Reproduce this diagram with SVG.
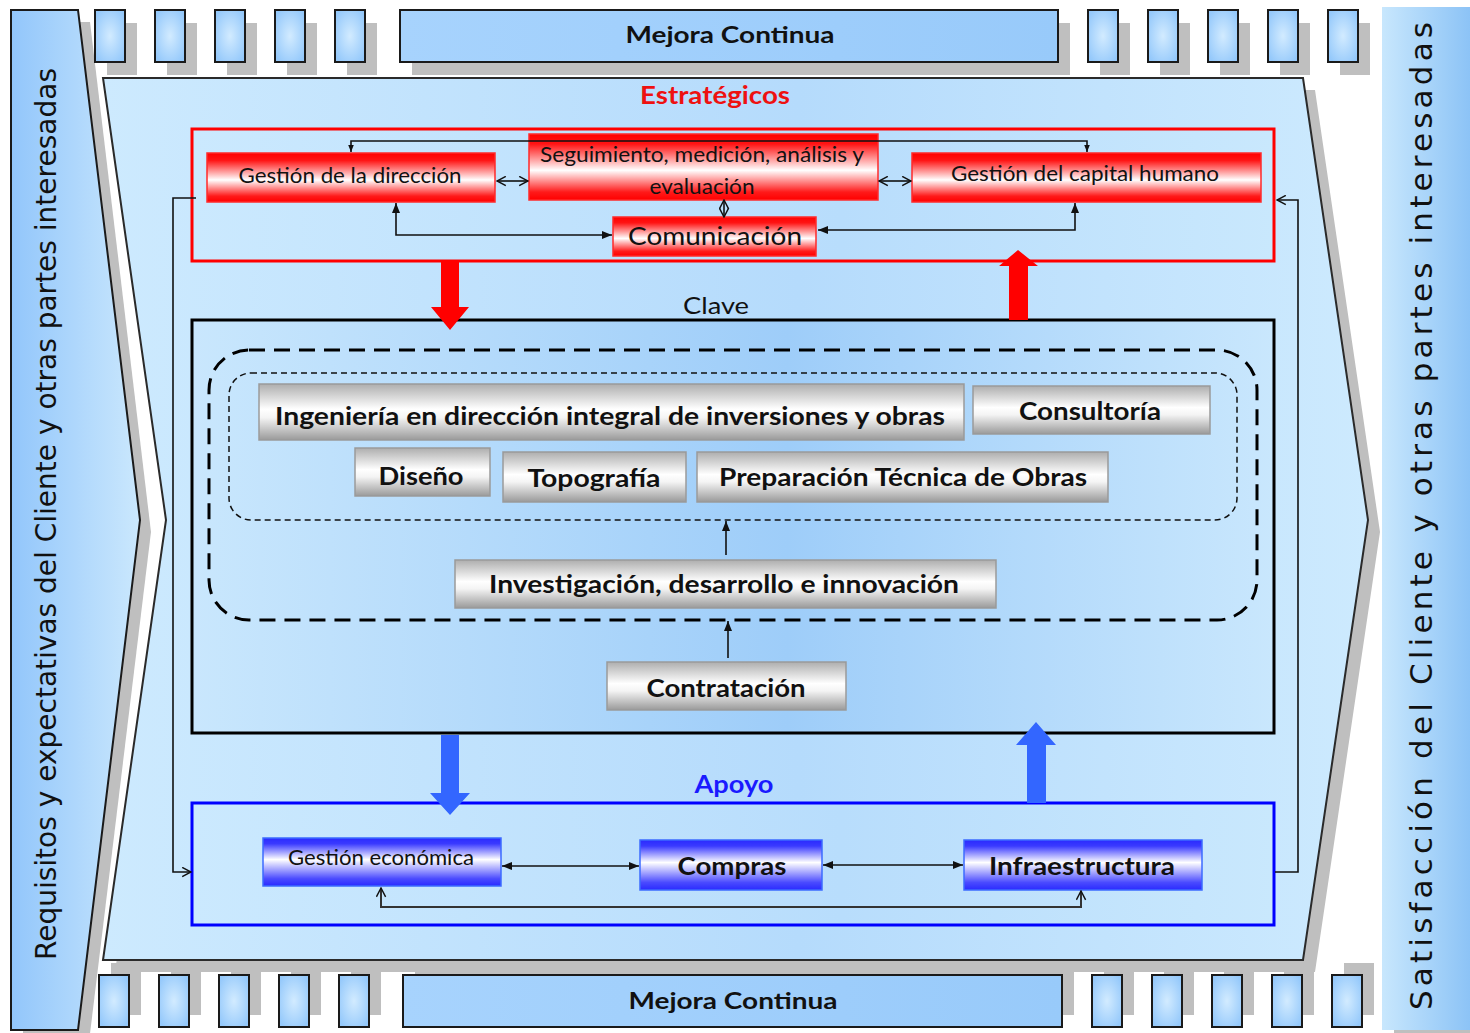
<svg xmlns="http://www.w3.org/2000/svg" width="1470" height="1033" viewBox="0 0 1470 1033">
<defs>
<style>
.sh{fill:#bfbfbf}
.blk{stroke:#1a1a1a;stroke-width:2}
.sm{fill:url(#gSmall)}
.mej{fill:url(#gMej)}
.lbl{font-family:Lato,"Open Sans","DejaVu Sans",sans-serif;fill:#111;text-anchor:middle}
.bold{font-weight:bold}
.redn{fill:url(#gRed);stroke:#ff2a2a;stroke-width:1.5}
.bluen{fill:url(#gBlue);stroke:#3d6bff;stroke-width:1.5}
.grayn{fill:url(#gGray);stroke:#9a9a9a;stroke-width:1.5}
.ln{fill:none;stroke:#111;stroke-width:1.6}
.lnb{fill:none;stroke:#333;stroke-width:2}
</style>
<radialGradient id="gSmall" cx="0.5" cy="0.5" r="0.6">
<stop offset="0" stop-color="#d2ebff"/><stop offset="1" stop-color="#95c9fb"/>
</radialGradient>
<linearGradient id="gMej" x1="0" y1="0" x2="1" y2="0">
<stop offset="0" stop-color="#a7d3fd"/><stop offset="1" stop-color="#98cafa"/>
</linearGradient>
<linearGradient id="gLeft" x1="0" y1="0" x2="1" y2="0">
<stop offset="0" stop-color="#92c6fb"/><stop offset="1" stop-color="#cbe8fd"/>
</linearGradient>
<linearGradient id="gRight" x1="0" y1="0" x2="1" y2="0">
<stop offset="0" stop-color="#c8e7fd"/><stop offset="1" stop-color="#8cc3f6"/>
</linearGradient>
<linearGradient id="gMain" x1="0" y1="0" x2="1" y2="0">
<stop offset="0" stop-color="#cdeafe"/><stop offset="0.55" stop-color="#b5dbfc"/><stop offset="1" stop-color="#cdeafe"/>
</linearGradient>
<linearGradient id="gClave" x1="0" y1="0" x2="1" y2="0">
<stop offset="0" stop-color="#c9e7fd"/><stop offset="0.55" stop-color="#9ecdf9"/><stop offset="1" stop-color="#c9e7fd"/>
</linearGradient>
<linearGradient id="gBox" x1="0" y1="0" x2="1" y2="0">
<stop offset="0" stop-color="#cbe9fe"/><stop offset="0.6" stop-color="#b8ddfc"/><stop offset="1" stop-color="#c9e8fd"/>
</linearGradient>
<linearGradient id="gRed" x1="0" y1="0" x2="0" y2="1">
<stop offset="0" stop-color="#ff0000"/><stop offset="0.15" stop-color="#ff1414"/><stop offset="0.55" stop-color="#ffffff"/><stop offset="0.88" stop-color="#ff1a1a"/><stop offset="1" stop-color="#ff0000"/>
</linearGradient>
<linearGradient id="gBlue" x1="0" y1="0" x2="0" y2="1">
<stop offset="0" stop-color="#2a2aff"/><stop offset="0.12" stop-color="#3a3aff"/><stop offset="0.45" stop-color="#ffffff"/><stop offset="0.85" stop-color="#4a4aff"/><stop offset="1" stop-color="#2a2aff"/>
</linearGradient>
<linearGradient id="gGray" x1="0" y1="0" x2="0" y2="1">
<stop offset="0" stop-color="#aeaeae"/><stop offset="0.45" stop-color="#ffffff"/><stop offset="0.6" stop-color="#f4f4f4"/><stop offset="1" stop-color="#9a9a9a"/>
</linearGradient>
<marker id="af" viewBox="0 0 10 10" refX="10" refY="5" markerWidth="10" markerHeight="10" markerUnits="userSpaceOnUse" orient="auto-start-reverse">
<path d="M0,1 L10,5 L0,9 z" fill="#111"/>
</marker>
<marker id="afs" viewBox="0 0 10 10" refX="10" refY="5" markerWidth="7" markerHeight="7" markerUnits="userSpaceOnUse" orient="auto-start-reverse">
<path d="M0,1 L10,5 L0,9 z" fill="#111"/>
</marker>
<marker id="ao" viewBox="0 0 10 10" refX="9" refY="5" markerWidth="11" markerHeight="11" markerUnits="userSpaceOnUse" orient="auto-start-reverse">
<path d="M1,0.8 L9,5 L1,9.2" fill="none" stroke="#111" stroke-width="1.3"/>
</marker>
</defs>

<rect width="1470" height="1033" fill="#ffffff"/>

<g id="shadows">
<polygon class="sh" points="23,22 90,22 151,532 89,1042 23,1042"/>
<polygon class="sh" points="115,90 1315,90 1380,532 1315,972 115,972 178,532"/>
<rect class="sh" x="1394" y="19" width="88" height="1023"/>
<rect class="sh" x="107" y="23" width="30" height="52"/><rect class="sh" x="167" y="23" width="30" height="52"/><rect class="sh" x="227" y="23" width="30" height="52"/><rect class="sh" x="287" y="23" width="30" height="52"/><rect class="sh" x="347" y="23" width="30" height="52"/>
<rect class="sh" x="412" y="23" width="658" height="52"/>
<rect class="sh" x="1100" y="23" width="30" height="52"/><rect class="sh" x="1160" y="23" width="30" height="52"/><rect class="sh" x="1220" y="23" width="30" height="52"/><rect class="sh" x="1280" y="23" width="30" height="52"/><rect class="sh" x="1340" y="23" width="30" height="52"/>
<rect class="sh" x="111" y="963" width="30" height="52"/><rect class="sh" x="171" y="963" width="30" height="52"/><rect class="sh" x="231" y="963" width="30" height="52"/><rect class="sh" x="291" y="963" width="30" height="52"/><rect class="sh" x="351" y="963" width="30" height="52"/>
<rect class="sh" x="415" y="963" width="659" height="52"/>
<rect class="sh" x="1104" y="963" width="30" height="52"/><rect class="sh" x="1164" y="963" width="30" height="52"/><rect class="sh" x="1224" y="963" width="30" height="52"/><rect class="sh" x="1284" y="963" width="30" height="52"/><rect class="sh" x="1344" y="963" width="30" height="52"/>
</g>

<g id="main-process">
<polygon points="103,78 1303,78 1368,520 1303,960 103,960 166,520" fill="url(#gMain)" stroke="#2a2a2a" stroke-width="2"/>
</g>

<g id="left-panel">
<polygon points="11,10 78,10 140,520 78,1030 11,1030" fill="url(#gLeft)" stroke="#1a1a1a" stroke-width="2"/>
<text transform="translate(56,514) rotate(-90)" style="font-family:'DejaVu Sans',Verdana,sans-serif;font-size:28px;fill:#111;text-anchor:middle" textLength="892" lengthAdjust="spacingAndGlyphs">Requisitos y expectativas del Cliente y otras partes interesadas</text>
</g>

<g id="right-panel">
<rect x="1382" y="7" width="88" height="1023" fill="url(#gRight)"/>
<text transform="translate(1432,516) rotate(-90)" style="font-family:'DejaVu Sans',Verdana,sans-serif;font-size:31px;fill:#111;text-anchor:middle" textLength="988" lengthAdjust="spacing">Satisfacción del Cliente y otras partes interesadas</text>
</g>

<g id="mejora-top">
<rect class="sm blk" x="95" y="10" width="30" height="52"/><rect class="sm blk" x="155" y="10" width="30" height="52"/><rect class="sm blk" x="215" y="10" width="30" height="52"/><rect class="sm blk" x="275" y="10" width="30" height="52"/><rect class="sm blk" x="335" y="10" width="30" height="52"/>
<rect class="mej blk" x="400" y="10" width="658" height="52"/>
<text class="lbl bold" x="730" y="43" style="font-size:23px" textLength="209" lengthAdjust="spacingAndGlyphs">Mejora Continua</text>
<rect class="sm blk" x="1088" y="10" width="30" height="52"/><rect class="sm blk" x="1148" y="10" width="30" height="52"/><rect class="sm blk" x="1208" y="10" width="30" height="52"/><rect class="sm blk" x="1268" y="10" width="30" height="52"/><rect class="sm blk" x="1328" y="10" width="30" height="52"/>
</g>

<g id="mejora-bottom">
<rect class="sm blk" x="99" y="975" width="30" height="52"/><rect class="sm blk" x="159" y="975" width="30" height="52"/><rect class="sm blk" x="219" y="975" width="30" height="52"/><rect class="sm blk" x="279" y="975" width="30" height="52"/><rect class="sm blk" x="339" y="975" width="30" height="52"/>
<rect class="mej blk" x="403" y="975" width="659" height="52"/>
<text class="lbl bold" x="733" y="1009" style="font-size:23px" textLength="209" lengthAdjust="spacingAndGlyphs">Mejora Continua</text>
<rect class="sm blk" x="1092" y="975" width="30" height="52"/><rect class="sm blk" x="1152" y="975" width="30" height="52"/><rect class="sm blk" x="1212" y="975" width="30" height="52"/><rect class="sm blk" x="1272" y="975" width="30" height="52"/><rect class="sm blk" x="1332" y="975" width="30" height="52"/>
</g>

<g id="estrategicos">
<text class="lbl bold" x="715" y="104" style="font-size:25px;fill:#ee1111" textLength="150" lengthAdjust="spacingAndGlyphs">Estratégicos</text>
<rect x="192" y="129" width="1082" height="132" fill="url(#gBox)" stroke="#ff0000" stroke-width="3"/>
</g>

<g id="node-gestion-direccion">
<rect class="redn" x="207" y="153" width="288" height="49"/>
<text class="lbl" x="350" y="183" style="font-size:21px" textLength="223" lengthAdjust="spacingAndGlyphs">Gestión de la dirección</text>
</g>
<g id="node-seguimiento">
<rect class="redn" x="529" y="134" width="349" height="66"/>
<text class="lbl" x="702" y="162" style="font-size:21px" textLength="324" lengthAdjust="spacingAndGlyphs">Seguimiento, medición, análisis y</text>
<text class="lbl" x="702" y="194" style="font-size:21px" textLength="105" lengthAdjust="spacingAndGlyphs">evaluación</text>
</g>
<g id="node-capital-humano">
<rect class="redn" x="912" y="153" width="349" height="49"/>
<text class="lbl" x="1085" y="181" style="font-size:21px" textLength="268" lengthAdjust="spacingAndGlyphs">Gestión del capital humano</text>
</g>
<g id="node-comunicacion">
<rect class="redn" x="613" y="217" width="203" height="39"/>
<text class="lbl" x="715" y="245" style="font-size:25px" textLength="174" lengthAdjust="spacingAndGlyphs">Comunicación</text>
</g>

<g id="clave">
<text class="lbl" x="716" y="314" style="font-size:24px" textLength="66" lengthAdjust="spacingAndGlyphs">Clave</text>
<rect x="192" y="320" width="1082" height="413" fill="url(#gClave)" stroke="#000" stroke-width="3"/>
<rect x="209" y="350" width="1048" height="270" rx="40" fill="none" stroke="#000" stroke-width="3" stroke-dasharray="16 9"/>
<rect x="229" y="373" width="1008" height="147" rx="22" fill="none" stroke="#111" stroke-width="1.5" stroke-dasharray="6 4"/>
</g>

<g id="node-ingenieria">
<rect class="grayn" x="259" y="384" width="705" height="56"/>
<text class="lbl bold" x="610" y="425" style="font-size:25px" textLength="670" lengthAdjust="spacingAndGlyphs">Ingeniería en dirección integral de inversiones y obras</text>
</g>
<g id="node-consultoria">
<rect class="grayn" x="973" y="386" width="237" height="48"/>
<text class="lbl bold" x="1090" y="420" style="font-size:25px" textLength="142" lengthAdjust="spacingAndGlyphs">Consultoría</text>
</g>
<g id="node-diseno">
<rect class="grayn" x="355" y="448" width="135" height="48"/>
<text class="lbl bold" x="421" y="485" style="font-size:25px" textLength="85" lengthAdjust="spacingAndGlyphs">Diseño</text>
</g>
<g id="node-topografia">
<rect class="grayn" x="503" y="452" width="183" height="50"/>
<text class="lbl bold" x="594" y="487" style="font-size:25px" textLength="133" lengthAdjust="spacingAndGlyphs">Topografía</text>
</g>
<g id="node-preparacion">
<rect class="grayn" x="697" y="452" width="411" height="50"/>
<text class="lbl bold" x="903" y="486" style="font-size:25px" textLength="368" lengthAdjust="spacingAndGlyphs">Preparación Técnica de Obras</text>
</g>
<g id="node-investigacion">
<rect class="grayn" x="455" y="560" width="541" height="48"/>
<text class="lbl bold" x="724" y="593" style="font-size:25px" textLength="470" lengthAdjust="spacingAndGlyphs">Investigación, desarrollo e innovación</text>
</g>
<g id="node-contratacion">
<rect class="grayn" x="607" y="662" width="239" height="48"/>
<text class="lbl bold" x="726" y="697" style="font-size:25px" textLength="159" lengthAdjust="spacingAndGlyphs">Contratación</text>
</g>

<g id="apoyo">
<text class="lbl bold" x="734" y="793" style="font-size:25px;fill:#1a1aff" textLength="79" lengthAdjust="spacingAndGlyphs">Apoyo</text>
<rect x="192" y="803" width="1082" height="122" fill="url(#gBox)" stroke="#0000ff" stroke-width="3"/>
</g>

<g id="node-gestion-economica">
<rect class="bluen" x="263" y="838" width="238" height="48"/>
<text class="lbl" x="381" y="865" style="font-size:21px" textLength="186" lengthAdjust="spacingAndGlyphs">Gestión económica</text>
</g>
<g id="node-compras">
<rect class="bluen" x="640" y="840" width="182" height="50"/>
<text class="lbl bold" x="732" y="875" style="font-size:25px" textLength="109" lengthAdjust="spacingAndGlyphs">Compras</text>
</g>
<g id="node-infraestructura">
<rect class="bluen" x="964" y="840" width="238" height="50"/>
<text class="lbl bold" x="1082" y="875" style="font-size:25px" textLength="186" lengthAdjust="spacingAndGlyphs">Infraestructura</text>
</g>

<g id="connectors">
<polygon points="441,262 459,262 459,307 469,307 450,330 431,307 441,307" fill="#ff0000"/>
<polygon points="1009,320 1009,266 999,266 1018,250 1038,266 1028,266 1028,320" fill="#ff0000"/>
<polygon points="441,735 459,735 459,793 470,793 450,815 430,793 441,793" fill="#3366ff"/>
<polygon points="1027,803 1027,745 1016,745 1036,722 1056,745 1046,745 1046,803" fill="#3366ff"/>
<path class="ln" d="M351,152 V141 H1087 V152" marker-start="url(#afs)" marker-end="url(#afs)"/>
<path class="ln" d="M497,181 H528" marker-start="url(#ao)" marker-end="url(#ao)"/>
<path class="ln" d="M879,181 H911" marker-start="url(#ao)" marker-end="url(#ao)"/>
<path class="ln" d="M724,200 V217" marker-start="url(#ao)" marker-end="url(#ao)"/>
<path class="ln" d="M396,203 V235 H612" marker-start="url(#af)" marker-end="url(#af)"/>
<path class="ln" d="M1075,203 V230 H818" marker-start="url(#af)" marker-end="url(#af)"/>
<path class="ln" d="M726,555 V521" marker-end="url(#af)"/>
<path class="ln" d="M728,658 V621" marker-end="url(#af)"/>
<path class="ln" d="M502,866 H639" marker-start="url(#af)" marker-end="url(#af)"/>
<path class="ln" d="M823,865 H963" marker-start="url(#af)" marker-end="url(#af)"/>
<path class="lnb" d="M381,888 V907 H1081 V891" marker-start="url(#ao)" marker-end="url(#ao)"/>
<path class="ln" d="M196,198 H173 V872 H191" marker-end="url(#ao)"/>
<path class="ln" d="M1275,872 H1298 V200 H1277" marker-end="url(#ao)"/>
</g>
</svg>
